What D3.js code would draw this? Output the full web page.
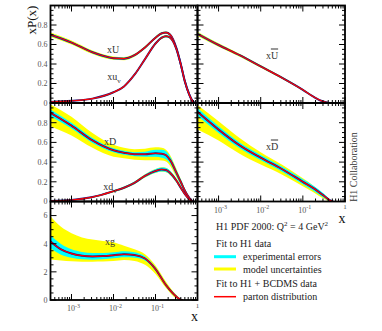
<!DOCTYPE html>
<html>
<head>
<meta charset="utf-8">
<script src="https://cdn.jsdelivr.net/npm/d3@7"></script>
<style>
  body { margin: 0; background: #fff; }
  svg { display: block; }
  text { font-family: "Liberation Serif", "Times New Roman", serif; }
</style>
</head>
<body>
<svg id="chart" width="382" height="331"></svg>
<script>
// --- data (log10 x grids + values) ---
const lxU = [-3.5, -3, -2.5, -2, -1.75, -1.5, -1.25, -1, -0.85, -0.75, -0.65, -0.5, -0.4, -0.3, -0.2, -0.12, -0.05];
const xUval = [0.70, 0.62, 0.52, 0.46, 0.455, 0.49, 0.57, 0.67, 0.715, 0.722, 0.70, 0.56, 0.40, 0.22, 0.09, 0.02, 0];
const xUexp = [0.012, 0.011, 0.01, 0.01, 0.01, 0.01, 0.01, 0.01, 0.01, 0.01, 0.01, 0.009, 0.008, 0.006, 0.004, 0.002, 0];
const xUmod = [0.022, 0.02, 0.018, 0.017, 0.016, 0.015, 0.014, 0.013, 0.012, 0.012, 0.012, 0.01, 0.008, 0.006, 0.004, 0.002, 0];
const xuvVal = [0.01, 0.022, 0.045, 0.11, 0.17, 0.29, 0.45, 0.61, 0.67, 0.685, 0.67, 0.55, 0.40, 0.22, 0.09, 0.02, 0];
const xuvExp = [0.002, 0.003, 0.004, 0.006, 0.007, 0.008, 0.009, 0.01, 0.011, 0.011, 0.011, 0.01, 0.008, 0.006, 0.004, 0.002, 0];
const xuvMod = [0.003, 0.004, 0.005, 0.007, 0.008, 0.009, 0.01, 0.012, 0.013, 0.013, 0.013, 0.011, 0.009, 0.007, 0.005, 0.002, 0];

const lxUbar = [-3.5, -3, -2.5, -2, -1.5, -1, -0.75, -0.55, -0.4, -0.3];
const xUbarVal = [0.71, 0.595, 0.49, 0.375, 0.26, 0.135, 0.065, 0.02, 0.003, 0];
const xUbarExp = [0.012, 0.011, 0.01, 0.009, 0.008, 0.007, 0.005, 0.003, 0.001, 0];
const xUbarMod = [0.022, 0.018, 0.016, 0.014, 0.012, 0.009, 0.006, 0.004, 0.001, 0];

const lxD = [-3.5, -3, -2.5, -2, -1.75, -1.5, -1.25, -1, -0.85, -0.75, -0.65, -0.5, -0.4, -0.3, -0.2, -0.12];
const xDval = [0.90, 0.77, 0.62, 0.52, 0.495, 0.48, 0.48, 0.49, 0.485, 0.47, 0.42, 0.29, 0.20, 0.11, 0.04, 0];
const xDexp = [0.035, 0.03, 0.025, 0.02, 0.02, 0.02, 0.025, 0.035, 0.04, 0.04, 0.035, 0.03, 0.025, 0.02, 0.01, 0];
const xDmodUp = [0.085, 0.09, 0.075, 0.055, 0.05, 0.05, 0.055, 0.06, 0.06, 0.055, 0.05, 0.04, 0.03, 0.02, 0.01, 0];
const xDmodDn = [0.135, 0.10, 0.075, 0.065, 0.055, 0.055, 0.06, 0.07, 0.07, 0.065, 0.06, 0.045, 0.035, 0.025, 0.01, 0];
const xdvVal = [0.005, 0.015, 0.045, 0.105, 0.14, 0.19, 0.26, 0.31, 0.325, 0.32, 0.29, 0.21, 0.14, 0.075, 0.025, 0];
const xdvExp = [0.003, 0.004, 0.006, 0.008, 0.01, 0.012, 0.014, 0.018, 0.02, 0.02, 0.02, 0.018, 0.015, 0.01, 0.006, 0];
const xdvMod = [0.004, 0.005, 0.007, 0.01, 0.012, 0.014, 0.016, 0.02, 0.023, 0.023, 0.022, 0.02, 0.016, 0.011, 0.006, 0];

const lxDbar = [-3.5, -3, -2.5, -2, -1.5, -1, -0.75, -0.5, -0.35, -0.28];
const xDbarVal = [0.91, 0.73, 0.57, 0.445, 0.33, 0.20, 0.135, 0.058, 0.01, 0];
const xDbarExp = [0.04, 0.035, 0.03, 0.027, 0.025, 0.025, 0.025, 0.02, 0.008, 0];
const xDbarModUp = [0.07, 0.085, 0.075, 0.055, 0.045, 0.035, 0.025, 0.015, 0.005, 0];
const xDbarModDn = [0.18, 0.11, 0.085, 0.07, 0.055, 0.045, 0.04, 0.03, 0.01, 0];

const lxg = [-3.5, -3.25, -3, -2.75, -2.5, -2.25, -2, -1.75, -1.5, -1.25, -1, -0.75, -0.5, -0.4, -0.35];
const xgVal = [4.15, 3.6, 3.3, 3.15, 3.1, 3.12, 3.18, 3.25, 3.2, 2.95, 2.2, 1.05, 0.23, 0.03, 0];
const xgExp = [0.45, 0.38, 0.3, 0.26, 0.24, 0.22, 0.22, 0.22, 0.2, 0.15, 0.12, 0.08, 0.05, 0.02, 0];
const xgModUp = [1.8, 1.6, 1.45, 1.3, 1.2, 1.08, 0.92, 0.6, 0.4, 0.3, 0.25, 0.25, 0.12, 0.05, 0];
const xgModDn = [1.27, 0.8, 0.55, 0.43, 0.38, 0.39, 0.41, 0.4, 0.42, 0.45, 0.35, 0.2, 0.13, 0.03, 0];

const xTickExps = [-3, -2, -1];
const yTicksPdf = [0, 0.2, 0.4, 0.6, 0.8];
const yTicksGluon = [0, 2, 4, 6];

// --- layout ---
const svg = d3.select('#chart');
const xDomain = [Math.pow(10, -3.5), 1];
const colL = [50.5, 197.5], colR = [197.5, 345];
const rowY = [[5.5, 103], [103, 201.5], [201.5, 300]];

const YELLOW = '#ffff00', CYAN = '#00ffff', RED = '#ff0000', NAVY = '#1a1a80';

function curve(lx, val, exp, modUp, modDn) {
  return lx.map((l, i) => ({ x: Math.pow(10, l), v: val[i], e: exp[i], up: modUp[i], dn: modDn[i] }));
}

const panels = [
  { id: 'ul', xr: colL, yr: rowY[0], ymax: 1, yticks: yTicksPdf, minor: 0.05, tickLabels: true,
    curves: [curve(lxU, xUval, xUexp, xUmod, xUmod), curve(lxU, xuvVal, xuvExp, xuvMod, xuvMod)] },
  { id: 'ur', xr: colR, yr: rowY[0], ymax: 1, yticks: yTicksPdf, minor: 0.05, tickLabels: false,
    curves: [curve(lxUbar, xUbarVal, xUbarExp, xUbarMod, xUbarMod)] },
  { id: 'ml', xr: colL, yr: rowY[1], ymax: 1, yticks: yTicksPdf, minor: 0.05, tickLabels: true,
    curves: [curve(lxD, xDval, xDexp, xDmodUp, xDmodDn), curve(lxD, xdvVal, xdvExp, xdvMod, xdvMod)] },
  { id: 'mr', xr: colR, yr: rowY[1], ymax: 1, yticks: yTicksPdf, minor: 0.05, tickLabels: false, xLabels: true,
    curves: [curve(lxDbar, xDbarVal, xDbarExp, xDbarModUp, xDbarModDn)] },
  { id: 'bl', xr: colL, yr: rowY[2], ymax: 7, yticks: yTicksGluon, minor: 0.5, tickLabels: true, xLabels: true,
    curves: [curve(lxg, xgVal, xgExp, xgModUp, xgModDn)] }
];

const defs = svg.append('defs');

function drawPanel(p) {
  const x = d3.scaleLog().domain(xDomain).range(p.xr);
  const y = d3.scaleLinear().domain([0, p.ymax]).range([p.yr[1], p.yr[0]]);

  defs.append('clipPath').attr('id', 'clip-' + p.id)
    .append('rect')
    .attr('x', p.xr[0]).attr('y', p.yr[0] - 4)
    .attr('width', p.xr[1] - p.xr[0]).attr('height', p.yr[1] - p.yr[0] + 4);

  const body = svg.append('g').attr('clip-path', `url(#clip-${p.id})`);

  const band = (lo, hi) => d3.area()
    .x(d => x(d.x)).y0(d => y(lo(d))).y1(d => y(hi(d)))
    .curve(d3.curveMonotoneX);

  // model uncertainties (yellow) underneath
  p.curves.forEach(c => {
    body.append('path').datum(c)
      .attr('fill', YELLOW)
      .attr('d', band(d => d.v - d.dn, d => d.v + d.up));
  });
  // experimental errors (cyan)
  p.curves.forEach(c => {
    body.append('path').datum(c)
      .attr('fill', CYAN)
      .attr('d', band(d => d.v - d.e, d => d.v + d.e));
  });
  // central values
  const line = d3.line().x(d => x(d.x)).y(d => y(d.v)).curve(d3.curveMonotoneX);
  p.curves.forEach(c => {
    body.append('path').datum(c)
      .attr('fill', 'none').attr('stroke', NAVY).attr('stroke-width', 2)
      .attr('d', line);
    body.append('path').datum(c)
      .attr('fill', 'none').attr('stroke', RED).attr('stroke-width', 1.2)
      .attr('d', line);
  });

  // ticks on all four sides, pointing inward
  const ax = svg.append('g').attr('stroke', '#000').attr('stroke-width', 1);
  const xMajor = [], xMinor = [];
  for (let e = -4; e <= 0; e++) {
    for (let m = 1; m <= 9; m++) {
      const v = m * Math.pow(10, e);
      if (v < xDomain[0] * 0.999 || v > xDomain[1] * 1.001) continue;
      (m === 1 ? xMajor : xMinor).push(v);
    }
  }
  const xt = (vals, len) => {
    vals.forEach(v => {
      const px = x(v);
      ax.append('line').attr('x1', px).attr('x2', px).attr('y1', p.yr[0]).attr('y2', p.yr[0] + len);
      ax.append('line').attr('x1', px).attr('x2', px).attr('y1', p.yr[1]).attr('y2', p.yr[1] - len);
    });
  };
  xt(xMajor, 6); xt(xMinor, 3);

  const yMinorVals = d3.range(0, p.ymax + 1e-9, p.minor);
  const majorStep = p.yticks[1] - p.yticks[0];
  yMinorVals.forEach(v => {
    const isMajor = Math.abs(v / majorStep - Math.round(v / majorStep)) < 1e-6;
    const len = isMajor ? 6 : 3;
    const py = y(v);
    ax.append('line').attr('x1', p.xr[0]).attr('x2', p.xr[0] + len).attr('y1', py).attr('y2', py);
    ax.append('line').attr('x1', p.xr[1]).attr('x2', p.xr[1] - len).attr('y1', py).attr('y2', py);
  });

  svg.append('rect')
    .attr('x', p.xr[0]).attr('y', p.yr[0])
    .attr('width', p.xr[1] - p.xr[0]).attr('height', p.yr[1] - p.yr[0])
    .attr('fill', 'none').attr('stroke', '#000').attr('stroke-width', 1.8);

  if (p.tickLabels) {
    p.yticks.forEach(v => {
      svg.append('text')
        .attr('x', p.xr[0] - 3).attr('y', y(v)).attr('dy', '0.35em')
        .attr('text-anchor', 'end').attr('font-size', 8).attr('fill', '#555')
        .text(v);
    });
  }

  if (p.xLabels) {
    const base = p.yr[1] + 11;
    xTickExps.forEach(ex => {
      const t = svg.append('text')
        .attr('x', x(Math.pow(10, ex)) + 2).attr('y', base)
        .attr('text-anchor', 'middle').attr('font-size', 8).attr('fill', '#555');
      t.append('tspan').text('10');
      t.append('tspan').attr('dy', -3.5).attr('font-size', 6).text(ex);
    });
    svg.append('text')
      .attr('x', x(1)).attr('y', base - 3.5)
      .attr('text-anchor', 'middle').attr('font-size', 7).attr('fill', '#555')
      .text('1');
    svg.append('text')
      .attr('x', x(1) - 3).attr('y', base + 10)
      .attr('text-anchor', 'middle').attr('font-size', 14).attr('fill', '#111')
      .text('x');
  }
}

panels.forEach(drawPanel);

// curve labels
function curveLabel(px, py, main, opts = {}) {
  const t = svg.append('text')
    .attr('x', px).attr('y', py).attr('dy', '0.35em')
    .attr('text-anchor', 'middle').attr('font-size', 10).attr('fill', '#333');
  t.append('tspan').text('x');
  const s = t.append('tspan').text(main);
  if (opts.bar) s.style('text-decoration', 'overline');
  if (opts.sub) t.append('tspan').attr('dy', 3).attr('font-size', 7).text(opts.sub);
}
curveLabel(113, 49, 'U');
curveLabel(114, 76, 'u', { sub: 'v' });
curveLabel(272, 55, 'U', { bar: true });
curveLabel(110, 141, 'D');
curveLabel(110, 186, 'd', { sub: 'v' });
curveLabel(272, 146, 'D', { bar: true });
curveLabel(110, 241, 'g');

// y axis title
svg.append('text')
  .attr('transform', 'translate(36,20) rotate(-90)')
  .attr('text-anchor', 'middle').attr('font-size', 13).attr('fill', '#111')
  .text('xP(x)');

svg.append('text')
  .attr('transform', 'translate(357,167) rotate(-90)')
  .attr('text-anchor', 'middle').attr('font-size', 10).attr('fill', '#333')
  .text('H1 Collaboration');

// legend
const lg = svg.append('g').attr('font-size', 10).attr('fill', '#222');
const title = lg.append('text').attr('x', 216).attr('y', 230);
title.append('tspan').text('H1 PDF 2000:  Q');
title.append('tspan').attr('dy', -4).attr('font-size', 7).text('2');
title.append('tspan').attr('dy', 4).text(' = 4 GeV');
title.append('tspan').attr('dy', -4).attr('font-size', 7).text('2');

lg.append('text').attr('x', 216).attr('y', 246.5).text('Fit to H1 data');
lg.append('line').attr('x1', 214).attr('x2', 236).attr('y1', 256.7).attr('y2', 256.7)
  .attr('stroke', CYAN).attr('stroke-width', 3);
lg.append('text').attr('x', 243).attr('y', 260).text('experimental errors');
lg.append('line').attr('x1', 214).attr('x2', 236).attr('y1', 269).attr('y2', 269)
  .attr('stroke', YELLOW).attr('stroke-width', 3);
lg.append('text').attr('x', 243).attr('y', 272.5).text('model uncertainties');
lg.append('text').attr('x', 216).attr('y', 286.5).text('Fit to H1 + BCDMS data');
lg.append('line').attr('x1', 214).attr('x2', 236).attr('y1', 296.7).attr('y2', 296.7)
  .attr('stroke', RED).attr('stroke-width', 1.5);
lg.append('text').attr('x', 243).attr('y', 300).text('parton distribution');
</script>
</body>
</html>
